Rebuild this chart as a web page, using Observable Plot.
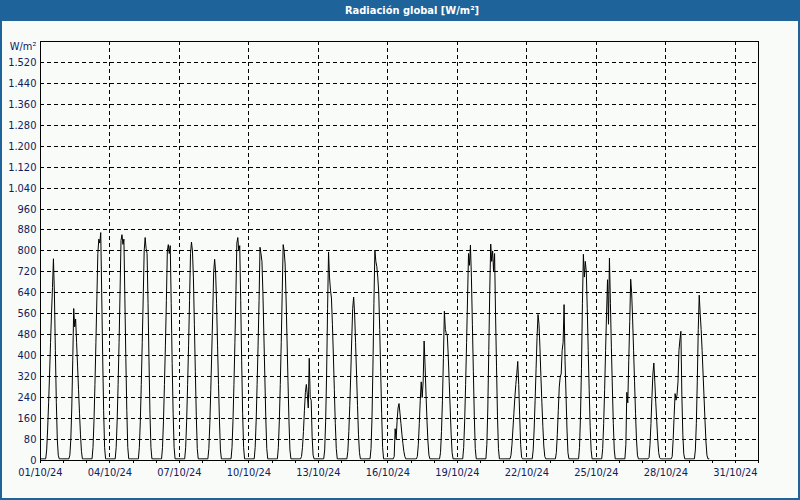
<!DOCTYPE html>
<html>
<head>
<meta charset="utf-8">
<script src="https://cdn.jsdelivr.net/npm/d3@7"></script>
<script src="https://cdn.jsdelivr.net/npm/@observablehq/plot@0.6"></script>
<style>
  html, body { margin: 0; padding: 0; background: #ffffff; }
  #win { position: relative; width: 800px; height: 500px; box-sizing: border-box;
         background: #f9fbf9; border: 2px solid #1e6399; border-top: none; overflow: hidden; }
  #title { height: 21px; margin: 0 -2px; background: #1e6399; color: #ffffff;
           font: bold 11px "DejaVu Sans Condensed", "DejaVu Sans", sans-serif; line-height: 21px;
           text-align: center; padding-left: 24px; }
  #chart { position: absolute; left: -2px; top: 21px; }
</style>
</head>
<body>
<div id="win">
  <div id="title">Radiación global [W/m²]</div>
  <div id="chart"></div>
</div>
<script>
// Hourly values (samples at 06:30 ... 18:30) for each day, W/m²
const oct01 = [40, 120, 220, 330, 450, 560, 660, 770, 640, 420, 220, 80, 20];
const oct02 = [20, 80, 200, 380, 580, 510, 540, 450, 360, 270, 180, 100, 35];
const oct03 = [50, 150, 290, 450, 620, 790, 845, 830, 870, 640, 400, 190, 50];
const oct04 = [50, 150, 290, 450, 640, 840, 862, 825, 845, 620, 390, 190, 50];
const oct05 = [50, 150, 290, 450, 620, 800, 851, 810, 790, 600, 380, 180, 50];
const oct06 = [50, 150, 290, 440, 610, 800, 824, 790, 820, 600, 370, 180, 50];
const oct07 = [50, 150, 290, 440, 610, 790, 834, 800, 700, 520, 340, 170, 45];
const oct08 = [45, 140, 270, 410, 560, 720, 768, 720, 600, 440, 290, 150, 40];
const oct09 = [50, 150, 290, 450, 630, 830, 851, 800, 820, 610, 380, 180, 50];
const oct10 = [50, 150, 290, 440, 610, 814, 790, 760, 640, 480, 320, 160, 45];
const oct11 = [50, 150, 290, 450, 640, 824, 800, 750, 620, 460, 300, 150, 40];
const oct12 = [15, 50, 110, 190, 260, 290, 250, 200, 390, 240, 230, 90, 20];
const oct13 = [40, 150, 330, 580, 796, 700, 650, 620, 520, 400, 270, 140, 45];
const oct14 = [35, 110, 210, 330, 460, 580, 624, 560, 450, 330, 210, 100, 30];
const oct15 = [45, 160, 360, 600, 803, 760, 740, 700, 640, 500, 340, 180, 50];
const oct16 = [15, 121, 80, 150, 200, 217, 180, 140, 100, 65, 35, 15, 6];
const oct17 = [15, 60, 140, 230, 300, 240, 300, 456, 360, 250, 150, 70, 20];
const oct18 = [30, 110, 230, 390, 570, 500, 484, 480, 400, 300, 200, 100, 30];
const oct19 = [50, 150, 290, 450, 620, 790, 745, 822, 700, 520, 340, 170, 45];
const oct20 = [60, 200, 420, 650, 826, 760, 800, 720, 790, 560, 360, 170, 45];
const oct21 = [6, 20, 60, 120, 180, 240, 290, 330, 378, 290, 170, 60, 12];
const oct22 = [40, 120, 230, 350, 470, 557, 520, 430, 320, 220, 130, 55, 15];
const oct23 = [30, 100, 190, 280, 320, 330, 420, 450, 595, 380, 250, 120, 30];
const oct24 = [50, 170, 350, 600, 787, 700, 760, 720, 580, 420, 270, 130, 40];
const oct25 = [45, 140, 270, 420, 560, 690, 520, 773, 600, 430, 280, 140, 40];
const oct26 = [60, 260, 220, 380, 530, 692, 640, 540, 420, 300, 180, 80, 20];
const oct27 = [10, 60, 140, 240, 330, 372, 300, 220, 150, 80, 30, 10, 6];
const oct28 = [15, 80, 170, 255, 230, 250, 300, 420, 460, 493, 250, 100, 25];
const oct29 = [40, 140, 300, 500, 631, 560, 500, 420, 330, 240, 150, 70, 20];
const nightValue = 6;       // flat night-time reading
const firstDayHour = 6;     // first daylight sample hour (hh:30)
const lastHourOnLastDay = 20;

const yTicks = [0, 80, 160, 240, 320, 400, 480, 560, 640, 720, 800, 880, 960, 1040, 1120, 1200, 1280, 1360, 1440, 1520];
const xTickLabels = ["01/10/24", "04/10/24", "07/10/24", "10/10/24", "13/10/24", "16/10/24", "19/10/24", "22/10/24", "25/10/24", "28/10/24", "31/10/24"];
const yUnit = "W/m²";

const days = [oct01, oct02, oct03, oct04, oct05, oct06, oct07, oct08, oct09, oct10,
              oct11, oct12, oct13, oct14, oct15, oct16, oct17, oct18, oct19, oct20,
              oct21, oct22, oct23, oct24, oct25, oct26, oct27, oct28, oct29];

const parseLabel = s => { const [d, m, y] = s.split("/").map(Number); return new Date(Date.UTC(2000 + y, m - 1, d)); };
const labelDates = xTickLabels.map(parseLabel);
const dayTicks = d3.utcDay.range(new Date(Date.UTC(2024, 9, 1)), new Date(Date.UTC(2024, 10, 1, 1)));

const series = [{t: new Date(Date.UTC(2024, 9, 1, 0, 0)), v: nightValue}];
days.forEach((vals, i) => {
  for (let h = 0; h < 24; h++) {
    if (i === days.length - 1 && h > lastHourOnLastDay) break;
    const idx = h - firstDayHour;
    const v = (idx >= 0 && idx < vals.length) ? vals[idx] : nightValue;
    series.push({t: new Date(Date.UTC(2024, 9, i + 1, h, 30)), v});
  }
});

const fmtY = v => v >= 1000 ? String(v).replace(/(\d)(\d{3})$/, "$1.$2") : String(v);
const navy = "#10205a";
const dash = "4,3";

const chart = Plot.plot({
  width: 800,
  height: 459,
  marginLeft: 40,
  marginRight: 40,
  marginTop: 20,
  marginBottom: 19,
  style: {background: "transparent", fontFamily: "'DejaVu Sans Condensed', 'DejaVu Sans', sans-serif",
          fontSize: "11px", color: navy, shapeRendering: "crispEdges"},
  x: {type: "utc", domain: [new Date(Date.UTC(2024, 9, 1)), new Date(Date.UTC(2024, 10, 1))], label: null},
  y: {domain: [0, 1600], label: null},
  marks: [
    Plot.gridY(yTicks.filter(v => v > 0), {stroke: "#000", strokeOpacity: 1, strokeDasharray: dash}),
    Plot.gridX(labelDates.slice(1), {stroke: "#000", strokeOpacity: 1, strokeDasharray: dash}),
    Plot.axisY(yTicks, {tickSize: 0, tickPadding: 4, tickFormat: fmtY, fill: navy, label: null}),
    Plot.axisX(labelDates, {tickSize: 0, tickPadding: 8, tickFormat: (d, i) => xTickLabels[i], fill: navy, label: null}),
    Plot.axisX(dayTicks, {tickSize: 3, tickFormat: () => "", stroke: "#000", label: null}),
    Plot.line(series, {x: "t", y: "v", stroke: "#000", strokeWidth: 1}),
    Plot.frame({stroke: "#000"}),
    Plot.text([yUnit], {frameAnchor: "top-left", dx: -4, dy: 5, textAnchor: "end", lineAnchor: "middle", fill: navy})
  ]
});
document.getElementById("chart").appendChild(chart);
</script>
</body>
</html>
